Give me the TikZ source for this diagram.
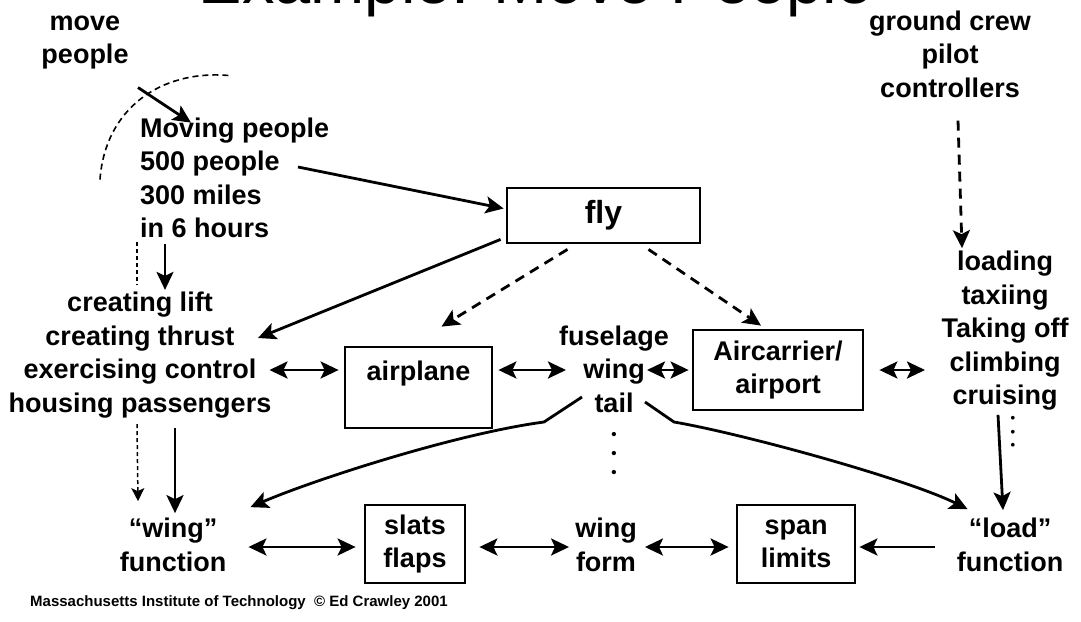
\documentclass[tikz,border=0pt]{standalone}
\usepackage{fontspec}
\setmainfont{Liberation Sans}
\usetikzlibrary{arrows.meta,calc}

\tikzset{
  lbl/.style={font=\bfseries\fontsize{27}{33.5}\selectfont, align=center, inner sep=0pt},
  boxnode/.style={draw, line width=2.8pt, inner sep=0pt, align=center,
                  font=\bfseries\fontsize{27}{33.5}\selectfont},
  dotcol/.style={font=\bfseries\fontsize{15}{19}\selectfont, align=center, inner sep=0pt},
  bighead/.tip={Stealth[length=18pt,width=17pt,inset=4pt]},
  arr/.style={line width=2.8pt, -bighead},
  dbl/.style={line width=2.8pt, bighead-bighead},
  dsharr/.style={arr, dash pattern=on 10pt off 7pt},
  thindsh/.style={line width=1.5pt, dash pattern=on 4pt off 3pt},
  thindsharr/.style={thindsh, -{Stealth[length=13pt,width=13pt,inset=3pt]}}
}

\begin{document}
\begin{tikzpicture}[x=1pt,y=-1pt]
\useasboundingbox (0,0) rectangle (1081,621);
\clip (0,0) rectangle (1081,621);

% title, cut by the top edge
\node[font=\fontsize{65}{78}\selectfont, anchor=base, inner sep=0pt] (title) at (536,4) {Example: Move People};

% text groups
\node[lbl] (move) at (85,42.5) {move\\people};
\node[lbl, align=left, anchor=west] (moving) at (140,178) {Moving people\\500 people\\300 miles\\in 6 hours};
\node[lbl] (crew) at (950,54) {ground crew\\pilot\\controllers};
\node[lbl] (creating) at (140,355) {creating lift\\creating thrust\\exercising control\\housing passengers};
\node[lbl] (fus) at (614,369) {fuselage\\wing\\tail};
\node[dotcol] (fusdots) at (614,455) {•\\•\\•};
\node[lbl] (phases) at (1005,331) {loading\\taxiing\\Taking off\\climbing\\cruising};
\node[dotcol, font=\bfseries\fontsize{13}{13.5}\selectfont] (phdots) at (1013,433) {•\\•\\•};
\node[lbl] (wingfn) at (173,545) {“wing”\\function};
\node[lbl] (form) at (606,545) {wing\\form};
\node[lbl] (loadfn) at (1010,545) {“load”\\function};

% boxes
\node[boxnode, minimum width=193, minimum height=55, font=\bfseries\fontsize{32}{38}\selectfont] (fly) at (603.5,215.5) {fly};
\node[boxnode, minimum width=147, minimum height=81] (airplane) at (418.5,387.5) {airplane\\\mbox{}};
\node[boxnode, minimum width=170, minimum height=80] (air) at (778,370) {Aircarrier/\\airport};
\node[boxnode, minimum width=100, minimum height=78] (slats) at (415,544) {slats\\flaps};
\node[boxnode, minimum width=118, minimum height=78] (span) at (796,544) {span\\limits};

% dashed arc and entry arrow
\draw[thindsh, line width=1.6pt, dash pattern=on 6pt off 4pt]
  ($(move.south)+(15,110)$) .. controls ($(move.south)+(20,40)$) and ($(move.south)+(75,0)$) .. ($(move.south)+(144,6)$);
\draw[arr] ($(move.south)+(53,18)$) -- ($(moving.north west)+(51,5)$);

% top level
\draw[arr] ($(moving.west)+(158,-11)$) -- ($(fly.west)+(-2,-7)$);
\draw[arr] ($(moving.south west)+(25,6)$) -- ($(creating.north)+(25,-2)$);
\draw[thindsh] ($(moving.south west)+(-3,4)$) -- ($(creating.north)+(-3,-7)$);
\draw[arr] ($(fly.south west)+(-5,-5)$) -- ($(creating.center)+(118,-17)$);
\draw[dsharr] ($(fly.south)+(-36,5)$) -- ($(airplane.north)+(23,-19)$);
\draw[dsharr] ($(fly.south)+(45,5)$) -- ($(air.north)+(-17,-3)$);
\draw[dsharr] ($(crew.south)+(8,23)$) -- ($(phases.north)+(-43,-3)$);

% middle row
\draw[dbl] ($(creating.east)+(-2,15)$) -- ($(airplane.west)+(-5,-17.5)$);
\draw[dbl] ($(airplane.east)+(5,-17.5)$) -- ($(fus.center)+(-48,1)$);
\draw[dbl] ($(fus.center)+(33,1)$) -- ($(air.west)+(-3,0)$);
\draw[dbl] ($(air.east)+(15,0)$) -- ($(phases.center)+(-80,39)$);

% down to the functions
\draw[thindsharr] ($(creating.south)+(-3,6)$) -- ($(wingfn.north)+(-35,-17)$);
\draw[arr] ($(creating.south)+(35,10)$) -- ($(wingfn.north)+(2,-5)$);
\draw[arr] ($(phases.south)+(-7,4)$) -- ($(loadfn.north)+(-7,-8)$);
\draw[arr] ($(fus.center)+(-32,28)$) -- ++(-38,25)
  .. controls +(-90,12) and ($(wingfn.north east)+(84,-37)$) .. ($(wingfn.north east)+(24,-11)$);
\draw[arr] ($(fus.center)+(31,33)$) -- ++(29,20)
  .. controls +(70,12) and ($(loadfn.north west)+(-49,-39)$) .. ($(loadfn.north west)+(11,-9)$);

% bottom row
\draw[dbl] ($(wingfn.east)+(22,2)$) -- ($(slats.west)+(-8,3)$);
\draw[dbl] ($(slats.east)+(13,3)$) -- ($(form.west)+(-6,2)$);
\draw[dbl] ($(form.east)+(8,2)$) -- ($(span.west)+(-7,3)$);
\draw[arr] ($(loadfn.west)+(-22,2)$) -- ($(span.east)+(3,3)$);

% footer
\node[font=\bfseries\fontsize{15}{18}\selectfont, anchor=west, inner sep=0pt] (footer) at (30,603)
  {Massachusetts Institute of Technology \ © Ed Crawley 2001};
\end{tikzpicture}
\end{document}
